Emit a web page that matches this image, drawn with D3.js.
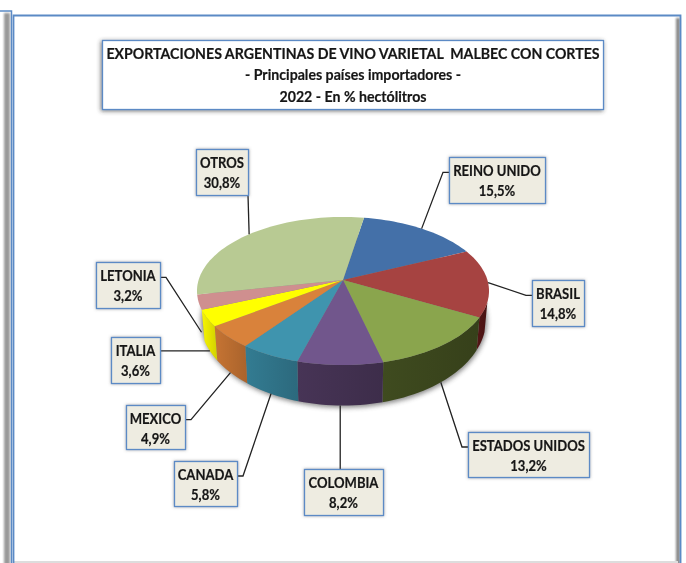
<!DOCTYPE html>
<html>
<head>
<meta charset="utf-8">
<script src="https://cdnjs.cloudflare.com/ajax/libs/d3/7.8.5/d3.min.js"></script>
<style>
html, body { margin: 0; padding: 0; background: #fff; }
svg { display: block; filter: blur(0.35px); }
text { font-family: Lato, "Noto Sans", sans-serif; font-weight: 700; fill: #161616; stroke: #161616; stroke-width: 0.2px; }
</style>
</head>
<body>
<div id="chart"></div>
<script>
var titleLines = ['EXPORTACIONES ARGENTINAS DE VINO VARIETAL  MALBEC CON CORTES', '- Principales países importadores -', '2022 - En % hectólitros'];

var countries = ['REINO UNIDO', 'BRASIL', 'ESTADOS UNIDOS', 'COLOMBIA', 'CANADA', 'MEXICO', 'ITALIA', 'LETONIA', 'OTROS'];
var shares = [15.5, 14.8, 13.2, 8.2, 5.8, 4.9, 3.6, 3.2, 30.8];
var topColors = ['#4470a8', '#a64341', '#8aa54d', '#71568c', '#3f94ae', '#d9823b', '#ffff00', '#cf8f8f', '#b8ca93'];
var sideColors = ['#2c4a70', '#4d1414', '#3a451c', '#41304f', '#2f7186', '#b56a2f', '#e2e000', '#8a5f5f', '#7a8a5f'];

//label boxes, same order as countries: x, y, w, h, side the leader leaves from
var labelBoxes = [
	[449, 157, 96, 46, 'left'],
	[532, 280, 52, 46, 'left'],
	[468, 432, 121, 45, 'left'],
	[304, 469, 79, 46, 'top'],
	[174, 461, 63, 45, 'right'],
	[126, 405, 59, 44, 'right'],
	[111, 337, 49, 46, 'right'],
	[96, 262, 64, 46, 'right'],
	[196, 149, 52, 46, 'bottom']
];

var width = 686;
var height = 563;
var rad = Math.PI / 180;

var svg = d3.select('#chart').append('svg')
	.attr('width', width)
	.attr('height', height);

var defs = svg.append('defs');

defs.append('filter').attr('id', 'soft')
	.attr('x', '-10%').attr('y', '-10%').attr('width', '120%').attr('height', '125%')
	.append('feGaussianBlur').attr('stdDeviation', 2.5);

defs.append('filter').attr('id', 'edge')
	.attr('x', '-100%').attr('y', '-2%').attr('width', '300%').attr('height', '104%')
	.append('feGaussianBlur').attr('stdDeviation', 1.2);

var boxShadow = defs.append('filter').attr('id', 'boxshadow')
	.attr('x', '-15%').attr('y', '-15%').attr('width', '130%').attr('height', '130%');
boxShadow.append('feDropShadow')
	.attr('dx', 0).attr('dy', 0).attr('stdDeviation', 1.5)
	.attr('flood-color', '#555').attr('flood-opacity', 0.55);

var titleShadow = defs.append('filter').attr('id', 'titleshadow')
	.attr('x', '-5%').attr('y', '-15%').attr('width', '110%').attr('height', '130%');
titleShadow.append('feDropShadow')
	.attr('dx', -1).attr('dy', 1).attr('stdDeviation', 2)
	.attr('flood-color', '#333').attr('flood-opacity', 0.7);

/* panel frames, the sheet behind and the one in front */
svg.append('rect').attr('x', 4).attr('y', 13).attr('width', 6).attr('height', height)
	.attr('fill', '#999').attr('filter', 'url(#edge)');
svg.append('path').attr('d', 'M0,11H11.5V563')
	.attr('fill', 'none').attr('stroke', '#5b8ac5').attr('stroke-width', 1.5);
svg.append('rect').attr('x', 676).attr('y', 18).attr('width', 4).attr('height', height)
	.attr('fill', '#888').attr('filter', 'url(#edge)');
svg.append('rect').attr('x', 14).attr('y', 561).attr('width', 664).attr('height', 2)
	.attr('fill', '#ddd');
svg.append('path').attr('d', 'M13.5,563V15.5H680.5V563')
	.attr('fill', 'none').attr('stroke', '#5b8ac5').attr('stroke-width', 1.8);

//squeezes Lato towards the narrower look of the original lettering
function squeeze(selection, factor) {
	selection.each(function () {
		var len = this.getComputedTextLength();
		d3.select(this)
			.attr('textLength', len * factor)
			.attr('lengthAdjust', 'spacingAndGlyphs');
	});
}

/* title */
svg.append('rect')
	.attr('x', 102.5).attr('y', 40.5).attr('width', 501).attr('height', 69)
	.attr('fill', '#fff')
	.attr('stroke', '#5b8ac5').attr('stroke-width', 1.3)
	.attr('filter', 'url(#titleshadow)');

svg.selectAll('.title').data(titleLines).enter().append('text')
	.attr('class', 'title')
	.attr('x', 353)
	.attr('y', function (d, i) { return 58.5 + i * 21.5; })
	.attr('text-anchor', 'middle')
	.attr('font-size', '15px')
	.style('white-space', 'pre')
	.text(function (d) { return d; })
	.call(squeeze, 0.944);

/* perspective of the disc: u right, v towards the viewer */
var apexX = 343;
var apexY = 280;
var tilt = 0.1486;
var radiusX = 144.4;
var radiusY = 72.4;

//returns the screen point of a rim angle (clockwise from 12 o'clock), lower = bottom rim
function rimPoint(angle, lower) {
	var u = Math.sin(angle);
	var v = -Math.cos(angle);
	var w = 1 - tilt * v;
	var x = radiusX * u / w;
	var y = radiusY * v / w;
	if (lower) {
		return [apexX + x * 0.98, apexY + 26.4 + y * 1.166];
	}
	return [apexX + x, apexY + y];
}

function arcPoints(a0, a1, lower) {
	var n = Math.max(2, Math.ceil(Math.abs(a1 - a0) / (2 * rad)));
	return d3.range(n + 1).map(function (i) {
		return rimPoint(a0 + (a1 - a0) * i / n, lower);
	});
}

var pie = d3.pie()
	.sort(null)
	.startAngle(9.6 * rad)
	.endAngle(369.6 * rad);

var slices = pie(shares);
var line = d3.line();
var sideFrom = 107 * rad;
var sideTo = slices[7].startAngle; //nothing of the wall shows from Letonia round the back

/* soft shadow under the pie */
svg.append('path')
	.attr('d', line(arcPoints(0, 2 * Math.PI, true)) + 'Z')
	.attr('transform', 'translate(1,2)')
	.attr('fill', '#444')
	.attr('opacity', 0.65)
	.attr('filter', 'url(#soft)');

/* wall of the pie, one gradient per slice */
slices.forEach(function (d, i) {
	var a0 = Math.max(d.startAngle, sideFrom);
	var a1 = Math.min(d.endAngle, sideTo);
	if (a1 <= a0) { return; }

	var grad = defs.append('linearGradient').attr('id', 'wall' + i);
	grad.append('stop').attr('offset', '0%').attr('stop-color', d3.color(sideColors[i]).brighter(0.25));
	grad.append('stop').attr('offset', '100%').attr('stop-color', d3.color(sideColors[i]).darker(0.2));

	var pts = arcPoints(a0, a1, false).concat(arcPoints(a1, a0, true));
	svg.append('path')
		.attr('class', 'wall')
		.attr('d', line(pts) + 'Z')
		.attr('fill', 'url(#wall' + i + ')');
});

/* top of the pie */
svg.selectAll('.slice').data(slices).enter().append('path')
	.attr('class', 'slice')
	.attr('d', function (d, i) {
		return line([[apexX, apexY]].concat(arcPoints(d.startAngle, d.endAngle, false))) + 'Z';
	})
	.attr('fill', function (d, i) { return topColors[i]; });

/* leaders */
function leaderPoints(d, i) {
	var box = labelBoxes[i];
	var mid = (d.startAngle + d.endAngle) / 2;
	var front = -Math.cos(mid) > 0.1;
	var rim = rimPoint(mid, front);
	var anchorY = box[1] + box[3] / 3;

	if (box[4] === 'left') {
		return [[box[0], anchorY], [box[0] - 6, anchorY], rim];
	}
	if (box[4] === 'right') {
		if (i === 6) { //Italia sits level with its slice
			return [[box[0] + box[2], rim[1]], rim];
		}
		return [[box[0] + box[2], anchorY], [box[0] + box[2] + 6, anchorY], rim];
	}
	if (box[4] === 'top') {
		return [[rim[0], box[1]], rim];
	}
	return [[box[0] + box[2], box[1] + box[3]], rim];
}

svg.selectAll('.leader').data(slices).enter().append('path')
	.attr('class', 'leader')
	.attr('d', function (d, i) { return line(leaderPoints(d, i)); })
	.attr('fill', 'none')
	.attr('stroke', '#222')
	.attr('stroke-width', 1.3);

/* labels */
var labels = svg.selectAll('.label').data(countries).enter().append('g')
	.attr('class', 'label');

labels.append('rect')
	.attr('x', function (d, i) { return labelBoxes[i][0] + 0.5; })
	.attr('y', function (d, i) { return labelBoxes[i][1] + 0.5; })
	.attr('width', function (d, i) { return labelBoxes[i][2]; })
	.attr('height', function (d, i) { return labelBoxes[i][3]; })
	.attr('fill', '#eeece1')
	.attr('stroke', '#5b8ac5')
	.attr('stroke-width', 1.3)
	.attr('filter', 'url(#boxshadow)');

labels.append('text')
	.attr('x', function (d, i) { return labelBoxes[i][0] + labelBoxes[i][2] / 2; })
	.attr('y', function (d, i) { return labelBoxes[i][1] + 18.5; })
	.attr('text-anchor', 'middle')
	.attr('font-size', '14.5px')
	.text(function (d) { return d; })
	.call(squeeze, 0.9);

labels.append('text')
	.attr('x', function (d, i) { return labelBoxes[i][0] + labelBoxes[i][2] / 2; })
	.attr('y', function (d, i) { return labelBoxes[i][1] + 39; })
	.attr('text-anchor', 'middle')
	.attr('font-size', '14.5px')
	.text(function (d, i) { return shares[i].toFixed(1).replace('.', ',') + '%'; })
	.call(squeeze, 0.9);
</script>
</body>
</html>
